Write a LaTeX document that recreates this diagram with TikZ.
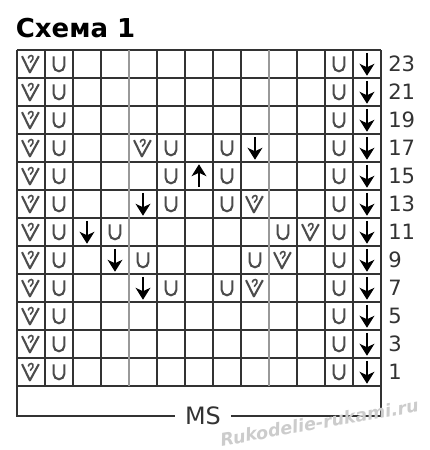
\documentclass[tikz,border=0pt]{standalone}
\usepackage{fontspec}
\setmainfont{DejaVu Sans}
\usetikzlibrary{arrows.meta,calc}
\definecolor{GridDark}{rgb}{0.2,0.2,0.2}
\definecolor{GridLight}{rgb}{0.6,0.6,0.6}
\definecolor{SymGray}{rgb}{0.3,0.3,0.3}

\begin{document}
\begin{tikzpicture}[x=0.7cm,y=0.7cm,
    gridline/.style={GridDark,line width=1.1pt},
    lightline/.style={GridLight,line width=1.1pt},
    num/.style={anchor=west,inner sep=0pt,font=\fontsize{15}{15}\selectfont,text=GridDark},
    usym/.pic={\draw[SymGray,line width=1.5pt] (-0.19,0.27) -- (-0.19,-0.07) arc (180:360:0.19) -- (0.19,0.27);},
    darrow/.pic={\draw[black,line width=1.9pt,-{Stealth[length=8.5pt,width=10.5pt,inset=2.5pt]}] (0,0.4) -- (0,-0.42);},
    uarrow/.pic={\draw[black,line width=1.9pt,-{Stealth[length=8.5pt,width=10.5pt,inset=2.5pt]}] (0,-0.4) -- (0,0.42);},
    vsym/.pic={\draw[SymGray,line width=1.5pt,line join=round] (-0.32,0.28) -- (-0.04,-0.3) -- (0.28,0.28);
      \draw[SymGray,line width=1.1pt] (-0.1,0.2) .. controls (-0.08,0.34) and (0.12,0.34) .. (0.07,0.18) -- (-0.03,0.05);}]
    \useasboundingbox (-0.607,-2.286) rectangle (14.75,13.786);
    %%Title
    \node[anchor=base west,inner sep=0pt,font=\fontsize{18.5}{18.5}\selectfont\bfseries] (title) at (-0.05,12.43) {Схема 1};
    %%Grid
    \foreach \y in {0,...,12} \draw[gridline] (0,\y) -- (13,\y);
    \foreach \x in {1,2,3,5,6,7,8,10,11,12} \draw[gridline] (\x,0) -- (\x,12);
    \foreach \x in {4,9} \draw[lightline] (\x,0) -- (\x,12);
    %%Frame
    \coordinate (bl) at (0,-1.07);
    \coordinate (br) at (13,-1.07);
    \node[inner sep=0pt,inner xsep=7pt,font=\fontsize{17}{17}\selectfont,text=GridDark] (ms) at (6.64,-1.05) {MS};
    \draw[gridline] (0,12) -- (bl) -- (ms.west |- bl);
    \draw[gridline] (ms.east |- br) -- (br) -- (13,12);
    %%Edge columns and row numbers
    \foreach \r in {1,...,12}{
        \pgfmathtruncatemacro\lab{25-2*\r}
        \pic at (0.5,12.5-\r) {vsym};
        \pic at (1.5,12.5-\r) {usym};
        \pic at (11.5,12.5-\r) {usym};
        \pic at (12.5,12.5-\r) {darrow};
        \node[num] (r\lab) at (13.25,12.5-\r) {\lab};
    }
    %%Pattern
    \foreach \c/\r in {5/4,9/6,11/7,10/8,9/9} \pic at (\c-0.5,12.5-\r) {vsym};
    \foreach \c/\r in {6/4,8/4,6/5,8/5,6/6,8/6,4/7,10/7,5/8,9/8,6/9,8/9} \pic at (\c-0.5,12.5-\r) {usym};
    \foreach \c/\r in {9/4,5/6,3/7,4/8,5/9} \pic at (\c-0.5,12.5-\r) {darrow};
    \pic at (6.5,7.5) {uarrow};
    %%Watermark
    \node[rotate=10,text=gray!40,font=\fontsize{12.5}{12.5}\selectfont\bfseries\itshape] (mark) at (10.8,-1.3) {Rukodelie-rukami.ru};
\end{tikzpicture}
\end{document}
